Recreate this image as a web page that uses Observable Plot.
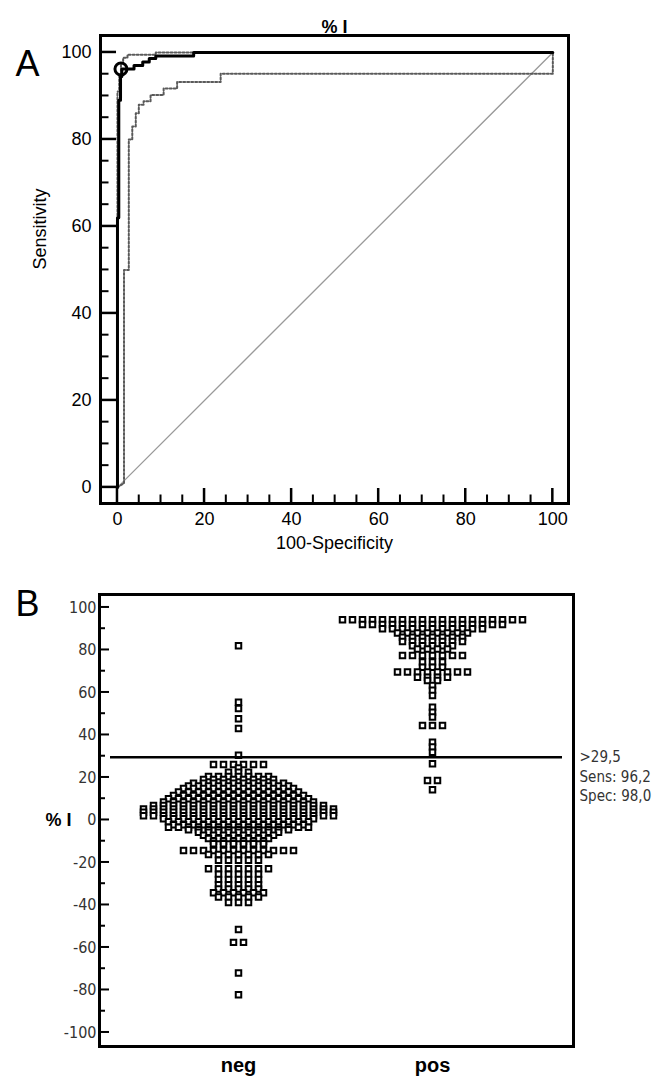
<!DOCTYPE html>
<html>
<head>
<meta charset="utf-8">
<script src="https://cdn.jsdelivr.net/npm/d3@7"></script>
<script src="https://cdn.jsdelivr.net/npm/@observablehq/plot@0.6"></script>
<style>
  body { margin: 0; background: #fff; }
  #chart { position: relative; width: 663px; height: 1085px; overflow: hidden; background: #fff; }
  #chart > svg { display: block; position: absolute; left: 0; }
</style>
</head>
<body>
<div id="chart"></div>
<script>
// ---------- Panel A : ROC curve ----------
const rocX = [0, 0, 0.3, 0.3, 0.7, 0.7, 1.0, 1.0, 3.8, 3.8, 5.8, 5.8, 7.3, 7.3, 8.8, 8.8, 17.5, 17.5, 100];
const rocY = [0, 62, 62, 89, 89, 94.5, 94.5, 96.2, 96.2, 97, 97, 97.8, 97.8, 98.6, 98.6, 99.2, 99.2, 100, 100];
const upperX = [0, 0, 0.4, 0.4, 0.8, 0.8, 1.3, 1.3, 2.3, 2.3, 8.8, 8.8, 100];
const upperY = [0, 91, 91, 95, 95, 97.5, 97.5, 98.8, 98.8, 99.5, 99.5, 100, 100];
const lowerX = [0, 1.5, 1.5, 2.6, 2.6, 3.4, 3.4, 4.2, 4.2, 4.9, 4.9, 6.0, 6.0, 7.6, 7.6, 10.6, 10.6, 13.7, 13.7, 23.7, 23.7, 100, 100];
const lowerY = [0, 1, 50, 50, 80, 80, 83, 83, 86, 86, 88, 88, 88.8, 88.8, 90.2, 90.2, 91.7, 91.7, 93.2, 93.2, 95.1, 95.1, 100];
const chanceLine = [0, 100];
const cutPointX = [0.8];
const cutPointY = [96.2];
const majorTicksA = [0, 20, 40, 60, 80, 100];
const minorTicksA = [5, 10, 15, 25, 30, 35, 45, 50, 55, 65, 70, 75, 85, 90, 95];

// ---------- Panel B : dot plot ----------
const groups = ["neg", "pos"];
const negValues = [82, 55.4, 52.5, 47.6, 43, 30.4, 26.1, 24.5, 22.5, 20.5, 19, 17.3, 16, 14.8, 13.2, 11.5, 10, 8.4, 6.8, 5.2, 3.6, 2.0, 0.6, -0.8, -2.2, -3.4, -4.6, -5.8, -7.2, -8.7, -10, -11.2, -14.4, -16.3, -19, -23, -25.5, -28, -30.5, -32.5, -34.2, -36.3, -38.8, -51.5, -57.6, -72, -82.3];
const negCounts = [1, 1, 1, 1, 1, 1, 6, 1, 3, 7, 8, 10, 11, 12, 13, 14, 15, 16, 18, 20, 20, 20, 16, 15, 14, 15, 11, 9, 8, 7, 6, 6, 12, 7, 5, 7, 5, 5, 5, 5, 6, 5, 3, 1, 2, 1, 1];
const posValues = [94.2, 92, 90, 88, 86, 84, 82, 80.5, 77.4, 74.3, 71.9, 69.6, 67.2, 65.6, 63.3, 61, 58.6, 53.1, 50.7, 48.4, 44.5, 36.6, 34.3, 31.9, 26.4, 18.6, 14.2];
const posCounts = [19, 15, 11, 8, 7, 7, 5, 4, 7, 3, 3, 8, 4, 2, 1, 1, 1, 1, 1, 1, 3, 1, 1, 1, 1, 2, 1];
const cutoff = 29.5, sensitivity = 96.2, specificity = 98.0;
const majorTicksB = [-100, -80, -60, -40, -20, 0, 20, 40, 60, 80, 100];
const minorTicksB = [-90, -70, -50, -30, -10, 10, 30, 50, 70, 90];

// ---------- build tables ----------
const pairs = (xs, ys) => xs.map((x, i) => ({x, y: ys[i]}));
const roc = pairs(rocX, rocY);
const upper = pairs(upperX, upperY);
const lower = pairs(lowerX, lowerY);
const cut = pairs(cutPointX, cutPointY);

const slot = 10 / 194; // horizontal spacing of squares within a row (group units)
function rows(values, counts, gi) {
  const pts = [];
  values.forEach((v, r) => {
    const n = counts[r];
    for (let k = 0; k < n; k++) pts.push({x: gi + (k - (n - 1) / 2) * slot, y: v});
  });
  return pts;
}
const points = rows(negValues, negCounts, 0).concat(rows(posValues, posCounts, 1));

const fontA = "'Liberation Sans', Arial, Helvetica, sans-serif";
const fontNarrow = "'Liberation Sans Narrow', 'Arial Narrow', 'DejaVu Sans Condensed', 'Liberation Sans', sans-serif";

// inward tick marks as thin filled rectangles, in data units
const xDomA = [-3.9, 103.6], yDomA = [-3.7, 103.9];
const pxA = 468 / (yDomA[1] - yDomA[0]);
const tickRectsX = (vals, len, w) => vals.map(v => ({x1: v - w / 2 / pxA, x2: v + w / 2 / pxA, y1: yDomA[0], y2: yDomA[0] + len / pxA}));
const tickRectsY = (vals, len, w) => vals.map(v => ({y1: v - w / 2 / pxA, y2: v + w / 2 / pxA, x1: xDomA[0], x2: xDomA[0] + len / pxA}));

const plotA = Plot.plot({
  width: 663, height: 580,
  marginLeft: 100, marginRight: 95, marginTop: 35, marginBottom: 77,
  x: {domain: xDomA},
  y: {domain: yDomA},
  style: {fontFamily: fontA, fontSize: "18px", color: "black", background: "white", overflow: "visible"},
  marks: [
    Plot.line(chanceLine, {x: d => d, y: d => d, stroke: "#9a9a9a", strokeWidth: 1.3}),
    Plot.line(upper, {x: "x", y: "y", stroke: "#5a5a5a", strokeWidth: 2, strokeDasharray: "2 2"}),
    Plot.line(lower, {x: "x", y: "y", stroke: "#5a5a5a", strokeWidth: 2, strokeDasharray: "2 2"}),
    Plot.line(roc, {x: "x", y: "y", stroke: "black", strokeWidth: 3}),
    Plot.dot(cut, {x: "x", y: "y", r: 6, stroke: "black", strokeWidth: 3, fill: "none"}),
    Plot.rect(tickRectsX(majorTicksA, 15, 2.5), {x1: "x1", x2: "x2", y1: "y1", y2: "y2", fill: "black"}),
    Plot.rect(tickRectsX(minorTicksA, 8.5, 2), {x1: "x1", x2: "x2", y1: "y1", y2: "y2", fill: "black"}),
    Plot.rect(tickRectsY(majorTicksA, 16, 2.5), {x1: "x1", x2: "x2", y1: "y1", y2: "y2", fill: "black"}),
    Plot.rect(tickRectsY(minorTicksA, 8.5, 2), {x1: "x1", x2: "x2", y1: "y1", y2: "y2", fill: "black"}),
    Plot.axisX({ticks: majorTicksA, tickSize: 0, tickPadding: 9, label: null}),
    Plot.axisY({ticks: majorTicksA, tickSize: 0, tickPadding: 9, label: null}),
    Plot.frame({stroke: "black", strokeWidth: 3}),
    Plot.text(["% I"], {frameAnchor: "top", dy: -15, fontWeight: "bold", fontSize: 18}),
    Plot.text(["100-Specificity"], {frameAnchor: "bottom", dy: 45}),
    Plot.text(["Sensitivity"], {frameAnchor: "left", dx: -60, rotate: -90}),
    Plot.text(["A"], {frameAnchor: "top-left", dx: -85, dy: 15, lineAnchor: "top", textAnchor: "start", fontSize: 36})
  ]
});
plotA.style.top = "0px";

const fmt = v => v.toFixed(1).replace(".", ",");
const xDomB = [-0.7165, 1.7268], yDomB = [-106.6, 106.1];
const pxBx = 474 / (xDomB[1] - xDomB[0]);
const pxBy = 452 / (yDomB[1] - yDomB[0]);
const tickRectsYB = (vals, len, w) => vals.map(v => ({y1: v - w / 2 / pxBy, y2: v + w / 2 / pxBy, x1: xDomB[0], x2: xDomB[0] + len / pxBx}));
const plotB = Plot.plot({
  width: 663, height: 505,
  marginLeft: 99, marginRight: 90, marginTop: 14, marginBottom: 39,
  x: {domain: xDomB},
  y: {domain: yDomB},
  style: {fontFamily: fontA, fontSize: "16px", color: "black", background: "white", overflow: "visible"},
  marks: [
    Plot.dot(points, {x: "x", y: "y", symbol: "square", r: 3.1, stroke: "black", strokeWidth: 2, fill: "white"}),
    Plot.ruleY([cutoff], {stroke: "black", strokeWidth: 2.5, insetLeft: 11, insetRight: 11}),
    Plot.rect(tickRectsYB(majorTicksB, 10, 2), {x1: "x1", x2: "x2", y1: "y1", y2: "y2", fill: "black"}),
    Plot.rect(tickRectsYB(minorTicksB, 6, 2), {x1: "x1", x2: "x2", y1: "y1", y2: "y2", fill: "black"}),
    Plot.axisY({ticks: majorTicksB, tickFormat: d => String(d), tickSize: 0, tickPadding: 3, label: null, fontFamily: fontNarrow, fontSize: 16, fill: "#333"}),
    Plot.axisX({ticks: [0, 1], tickFormat: i => groups[i], tickSize: 0, tickPadding: 11, label: null, fontWeight: "bold", fontSize: 20}),
    Plot.frame({stroke: "black", strokeWidth: 3}),
    Plot.text([`>${fmt(cutoff)}\nSens: ${fmt(sensitivity)}\nSpec: ${fmt(specificity)}`],
      {y: [cutoff], frameAnchor: "right", dx: 6, dy: -9, textAnchor: "start", lineAnchor: "top", lineHeight: 1.3,
       fontFamily: fontNarrow, fontSize: 15, fill: "#333"}),
    Plot.text(["% I"], {y: [0], frameAnchor: "left", dx: -54, fontWeight: "bold", fontSize: 18}),
    Plot.text(["B"], {frameAnchor: "top-left", dx: -84, dy: -4, lineAnchor: "top", textAnchor: "start", fontSize: 36})
  ]
});
plotB.style.top = "580px";

const chart = document.getElementById("chart");
chart.appendChild(plotA);
chart.appendChild(plotB);
</script>
</body>
</html>
